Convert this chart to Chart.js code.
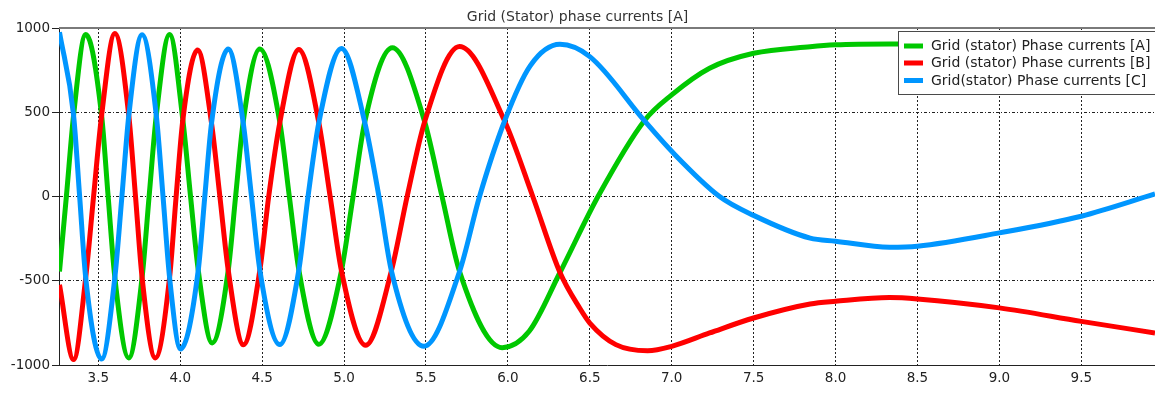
<!DOCTYPE html>
<html>
<head>
<meta charset="utf-8">
<script src="https://cdn.jsdelivr.net/npm/chart.js@4"></script>
<style>
  html, body { margin: 0; padding: 0; background: #fff; }
  #wrap { width: 1155px; height: 395px; }
</style>
</head>
<body>
<div id="wrap"><canvas id="grafico" width="1155" height="395"></canvas></div>
<script>
// tempo (s) e corrente (A)
const tA = [3.263, 3.305, 3.349, 3.423, 3.520, 3.560, 3.601, 3.686, 3.767, 3.810, 3.854, 3.935, 4.016, 4.063, 4.110, 4.195, 4.293, 4.338, 4.384, 4.486, 4.608, 4.666, 4.724, 4.846, 4.984, 5.055, 5.126, 5.295, 5.492, 5.598, 5.705, 5.965, 6.130, 6.318, 6.550, 6.833, 7.000, 7.231, 7.500, 7.845, 8.000, 8.330, 8.500, 9.000, 9.500, 9.950];
const iA = [-445, 0, 482, 962, 482, 0, -482, -958, -482, 0, 482, 962, 455, 0, -437, -869, -437, 0, 440, 875, 440, 0, -436, -877, -440, 0, 441, 883, 444, 0, -445, -897, -800, -451, 0, 450, 603, 761, 850, 889, 900, 905, 905, 880, 858, 805];

const tB = [3.263, 3.349, 3.423, 3.471, 3.520, 3.601, 3.686, 3.727, 3.767, 3.848, 3.935, 3.975, 4.016, 4.106, 4.191, 4.242, 4.293, 4.386, 4.486, 4.540, 4.608, 4.724, 4.846, 4.915, 4.984, 5.132, 5.289, 5.385, 5.492, 5.705, 5.980, 6.152, 6.318, 6.440, 6.500, 6.659, 6.853, 7.000, 7.231, 7.500, 7.845, 8.000, 8.330, 8.500, 9.000, 9.500, 9.950];
const iB = [-524, -968, -482, 0, 480, 968, 480, 0, -480, -958, -481, 0, 455, 870, 435, 0, -437, -880, -437, 0, 440, 872, 438, 0, -440, -883, -441, 0, 444, 890, 448, 0, -451, -665, -751, -879, -915, -889, -810, -721, -638, -622, -600, -608, -661, -741, -810];

const tC = [3.263, 3.349, 3.386, 3.423, 3.520, 3.601, 3.644, 3.686, 3.767, 3.854, 3.895, 3.935, 4.002, 4.110, 4.150, 4.191, 4.293, 4.384, 4.435, 4.486, 4.608, 4.724, 4.780, 4.846, 4.984, 5.126, 5.213, 5.289, 5.488, 5.705, 5.827, 5.980, 6.136, 6.318, 6.500, 6.833, 7.000, 7.292, 7.500, 7.845, 8.000, 8.330, 8.500, 9.000, 9.500, 9.950];
const iC = [975, 482, 0, -482, -965, -480, 0, 480, 960, 480, 0, -481, -905, -437, 0, 435, 875, 440, 0, -437, -879, -436, 0, 438, 879, 441, 0, -441, -889, -445, 0, 448, 775, 903, 830, 450, 268, 0, -112, -247, -265, -301, -295, -216, -117, 15];

const xTicks = [3.5, 4.0, 4.5, 5.0, 5.5, 6.0, 6.5, 7.0, 7.5, 8.0, 8.5, 9.0, 9.5];
const xTickLabels = ['3.5', '4.0', '4.5', '5.0', '5.5', '6.0', '6.5', '7.0', '7.5', '8.0', '8.5', '9.0', '9.5'];
const yTickLabels = ['-1000', '-500', '0', '500', '1000'];

const corA = '#00c800';
const corB = '#ff0000';
const corC = '#0096ff';

function pontos(t, i) {
    return t.map((v, k) => ({ x: v, y: i[k] }));
}

// borda de cima cinza
const bordaTopo = {
    id: 'bordaTopo',
    afterDatasetsDraw(chart) {
        const { ctx, chartArea } = chart;
        ctx.save();
        ctx.strokeStyle = '#7a7a7a';
        ctx.lineWidth = 2;
        ctx.beginPath();
        ctx.moveTo(chartArea.left, chartArea.top);
        ctx.lineTo(chartArea.right, chartArea.top);
        ctx.stroke();
        ctx.restore();
    }
};

// legenda dentro do gráfico, canto superior direito
const legendaCaixa = {
    id: 'legendaCaixa',
    afterDraw(chart) {
        const ctx = chart.ctx;
        const x0 = 898.5, y0 = 31.5, w = 260, h = 63;
        ctx.save();
        ctx.fillStyle = '#ffffff';
        ctx.fillRect(x0, y0, w, h);
        ctx.strokeStyle = '#4a4a4a';
        ctx.lineWidth = 1;
        ctx.strokeRect(x0, y0, w, h);
        ctx.font = '14px "DejaVu Sans"';
        ctx.textBaseline = 'middle';
        const linhas = [46, 63, 80.5];
        chart.data.datasets.forEach((ds, k) => {
            ctx.fillStyle = ds.borderColor;
            ctx.fillRect(904, linhas[k] - 2.5, 19, 5);
            ctx.fillStyle = '#222';
            ctx.fillText(ds.label, 931, linhas[k] + 0.5);
        });
        ctx.restore();
    }
};

const ctx = document.getElementById('grafico').getContext('2d');
const grafico = new Chart(ctx, {
    type: 'line',
    data: {
        datasets: [
            { label: 'Grid (stator) Phase currents [A]', data: pontos(tA, iA), borderColor: corA, order: 2 },
            { label: 'Grid (stator) Phase currents [B]', data: pontos(tB, iB), borderColor: corB, order: 1 },
            { label: 'Grid(stator) Phase currents [C]', data: pontos(tC, iC), borderColor: corC, order: 0 }
        ]
    },
    options: {
        responsive: false,
        animation: false,
        devicePixelRatio: 1,
        layout: { padding: 0 },
        elements: {
            line: { borderWidth: 5, cubicInterpolationMode: 'monotone', fill: false },
            point: { radius: 0 }
        },
        plugins: {
            legend: { display: false },
            tooltip: { enabled: false },
            title: {
                display: true,
                text: 'Grid (Stator) phase currents [A]',
                color: '#333',
                font: { family: 'DejaVu Sans', size: 14, weight: 'normal' },
                padding: { top: 9, bottom: 2.2 }
            }
        },
        scales: {
            x: {
                type: 'linear',
                min: 3.26,
                max: 9.95,
                afterBuildTicks: (scale) => { scale.ticks = xTicks.map(v => ({ value: v })); },
                afterFit: (scale) => { scale.height = 30; },
                ticks: {
                    callback: (v, idx) => xTickLabels[idx],
                    color: '#222',
                    font: { family: 'DejaVu Sans', size: 13.5 },
                    padding: 5,
                    maxRotation: 0
                },
                grid: { color: '#222', lineWidth: 1, drawTicks: false },
                border: { display: true, color: '#222', width: 1, dash: [2, 2] }
            },
            y: {
                min: -1000,
                max: 1000,
                afterBuildTicks: (scale) => { scale.ticks = [-1000, -500, 0, 500, 1000].map(v => ({ value: v })); },
                afterFit: (scale) => { scale.width = 59; },
                ticks: {
                    callback: (v, idx) => yTickLabels[idx],
                    color: '#222',
                    font: { family: 'DejaVu Sans', size: 13.5 },
                    padding: 2
                },
                grid: {
                    color: '#222', lineWidth: 1, drawTicks: true, tickLength: 7,
                    tickColor: '#222', tickBorderDash: [10, 0]
                },
                border: { display: true, color: '#222', width: 1, dash: [3, 2, 1, 2] }
            }
        }
    },
    plugins: [bordaTopo, legendaCaixa]
});
</script>
</body>
</html>
